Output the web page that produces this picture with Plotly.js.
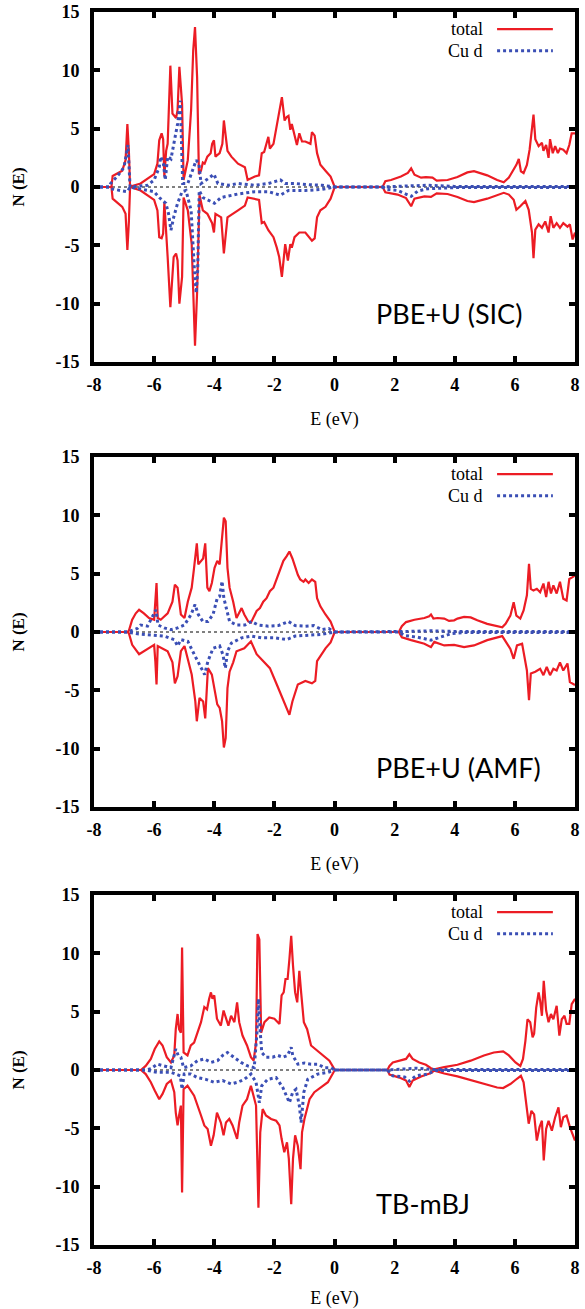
<!DOCTYPE html>
<html>
<head>
<meta charset="utf-8">
<script src="https://cdn.plot.ly/plotly-3.0.1.min.js"></script>
<style>html,body{margin:0;padding:0;background:#fff;}#plot{width:585px;height:1309px;}</style>
</head>
<body>
<div id="plot"></div>
<script>
// ---- data: [E (eV), N(E)] pairs ----
const panelLabels = ["PBE+U (SIC)", "PBE+U (AMF)", "TB-mBJ"];
const seriesNames = ["total", "Cu d"];
const xTicks = [-8, -6, -4, -2, 0, 2, 4, 6, 8];
const yTicks = [-15, -10, -5, 0, 5, 10, 15];

const sicTotalUp = [[-8,0],[-7.42,0],[-7.38,0.95],[-7.2,1.2],[-7.06,1.4],[-6.95,2.3],[-6.89,5.4],[-6.84,3.1],[-6.8,0],[-6.78,0.05],[-6.45,0.3],[-6.22,0.7],[-6.0,1.1],[-5.89,2.0],[-5.83,4.0],[-5.75,4.6],[-5.7,4.1],[-5.66,0.9],[-5.6,3.1],[-5.55,3.7],[-5.5,7.7],[-5.46,10.4],[-5.39,6.3],[-5.27,5.9],[-5.22,6.6],[-5.16,10.3],[-5.07,7.1],[-5.02,0.6],[-4.88,2.3],[-4.77,6.6],[-4.7,11.7],[-4.64,13.7],[-4.57,9.4],[-4.51,1.1],[-4.44,1.4],[-4.38,2.1],[-4.32,2.0],[-4.23,2.6],[-4.12,2.9],[-4.07,3.7],[-4.01,4.0],[-3.96,2.6],[-3.82,2.9],[-3.73,3.7],[-3.68,5.7],[-3.56,3.1],[-3.43,2.6],[-3.21,2.0],[-2.98,1.7],[-2.89,0.6],[-2.65,0.9],[-2.51,1.0],[-2.42,2.9],[-2.34,3.0],[-2.2,4.3],[-2.15,3.3],[-2.03,3.7],[-1.92,5.4],[-1.84,6.6],[-1.75,7.7],[-1.66,5.7],[-1.59,6.0],[-1.53,6.1],[-1.47,4.9],[-1.42,5.4],[-1.33,4.3],[-1.25,3.6],[-1.17,4.6],[-1.08,3.9],[-0.97,3.9],[-0.8,3.7],[-0.75,4.7],[-0.66,4.4],[-0.58,2.9],[-0.47,1.9],[-0.3,1.4],[-0.13,0.9],[0,0.05],[0.05,0],[1.6,0],[1.69,0.5],[1.88,0.6],[2.21,0.9],[2.44,1.2],[2.55,1.6],[2.66,1.05],[2.88,0.8],[3.04,0.85],[3.26,0.8],[3.4,0.55],[3.76,0.6],[4.09,0.85],[4.42,1.25],[4.64,1.35],[4.86,1.2],[5.08,1.0],[5.41,0.6],[5.63,0.4],[5.8,0.8],[5.96,1.5],[6.05,1.9],[6.13,2.4],[6.2,1.35],[6.29,1.2],[6.4,1.9],[6.49,3.2],[6.57,4.9],[6.62,6.2],[6.68,4.1],[6.79,3.5],[6.9,3.8],[6.95,3.1],[7.04,3.6],[7.12,2.5],[7.17,4.1],[7.26,2.9],[7.34,3.5],[7.43,2.9],[7.5,3.3],[7.61,3.2],[7.72,2.9],[7.81,3.6],[7.89,4.6],[8,4.6]];
const sicTotalDn = [[-8,0],[-7.42,0],[-7.38,-1.0],[-7.06,-1.7],[-6.95,-2.3],[-6.89,-5.4],[-6.84,-3.0],[-6.8,0],[-6.45,-0.3],[-6.22,-0.7],[-6.0,-1.1],[-5.89,-2.0],[-5.83,-4.3],[-5.75,-4.4],[-5.7,-4.0],[-5.66,-1.3],[-5.6,-3.5],[-5.55,-6.0],[-5.46,-10.3],[-5.35,-6.0],[-5.27,-5.7],[-5.22,-6.3],[-5.16,-10.0],[-5.07,-7.7],[-5.02,-0.9],[-4.88,-2.0],[-4.75,-4.9],[-4.7,-9.0],[-4.64,-13.6],[-4.57,-9.0],[-4.49,-0.7],[-4.38,-2.0],[-4.23,-2.3],[-4.07,-3.1],[-4.01,-3.9],[-3.96,-2.3],[-3.77,-2.6],[-3.68,-5.7],[-3.56,-2.6],[-3.21,-2.0],[-2.98,-1.6],[-2.89,-0.9],[-2.51,-1.1],[-2.42,-3.1],[-2.34,-3.0],[-2.2,-3.7],[-2.03,-4.3],[-1.92,-5.2],[-1.84,-6.0],[-1.75,-7.7],[-1.64,-4.9],[-1.55,-6.3],[-1.47,-4.9],[-1.42,-5.2],[-1.33,-4.3],[-1.17,-3.9],[-0.97,-3.9],[-0.75,-4.6],[-0.66,-4.4],[-0.58,-2.6],[-0.47,-2.0],[-0.3,-1.7],[-0.13,-1.0],[0,-0.05],[0.05,0],[1.6,0],[1.69,-0.45],[2.1,-0.65],[2.38,-0.95],[2.55,-1.65],[2.66,-1.0],[2.99,-0.8],[3.21,-0.85],[3.4,-0.55],[3.76,-0.6],[4.09,-0.85],[4.42,-1.2],[4.64,-1.3],[5.08,-1.0],[5.63,-0.5],[5.8,-0.65],[5.96,-1.1],[6.05,-1.95],[6.18,-1.65],[6.35,-1.2],[6.46,-1.95],[6.57,-3.9],[6.62,-6.1],[6.68,-3.65],[6.79,-3.2],[6.9,-3.5],[7.01,-2.95],[7.12,-3.9],[7.19,-2.5],[7.28,-3.5],[7.39,-3.1],[7.5,-3.5],[7.61,-3.1],[7.75,-3.4],[7.83,-3.2],[7.92,-4.5],[8,-3.9]];
const sicCudUp = [[-8,0],[-7.5,0],[-7.45,0.3],[-7.23,0.9],[-7.0,1.7],[-6.87,3.6],[-6.8,0],[-6.5,0.05],[-6.22,0.15],[-6.0,0.6],[-5.83,1.7],[-5.78,2.6],[-5.69,2.0],[-5.63,0.6],[-5.55,2.6],[-5.44,2.4],[-5.31,4.0],[-5.22,5.4],[-5.13,7.4],[-5.05,0.3],[-4.88,0.3],[-4.72,1.4],[-4.6,2.3],[-4.51,2.0],[-4.44,0.3],[-4.21,0.7],[-4.01,1.1],[-3.88,0.3],[-3.54,0.15],[-3.21,0.3],[-2.65,0.15],[-2.2,0.3],[-1.8,0.6],[-1.64,0.3],[-1.3,0.3],[-0.85,0.2],[-0.41,0.15],[0,0],[1.6,0],[2.55,0.1],[3.1,0.15],[4,0.05],[5,0.05],[6,0.05],[7,0.05],[8,0.05]];
const sicCudDn = [[-8,0],[-7.5,0],[-7.45,-0.15],[-6.89,-0.4],[-6.8,0],[-6.22,-0.3],[-6.0,-0.4],[-5.83,-0.9],[-5.61,-1.4],[-5.52,-2.3],[-5.44,-3.7],[-5.35,-2.6],[-5.22,-1.4],[-5.07,-0.4],[-4.94,-0.3],[-4.77,-2.0],[-4.72,-4.9],[-4.66,-7.1],[-4.6,-9.1],[-4.55,-7.1],[-4.5,-0.3],[-4.38,-0.9],[-3.99,-1.4],[-3.77,-0.9],[-3.21,-0.6],[-2.65,-0.4],[-2.2,-0.4],[-1.8,-0.7],[-1.53,-0.3],[-0.97,-0.3],[-0.41,-0.2],[0,0],[1.6,0],[1.72,-0.2],[2.1,-0.3],[2.55,-0.8],[2.77,-0.35],[3.1,-0.15],[4,-0.05],[6,-0.05],[8,-0.05]];

const amfTotalUp = [[-8,0],[-6.9,0],[-6.84,0.1],[-6.73,1.05],[-6.61,1.6],[-6.5,1.9],[-6.34,1.6],[-6.17,1.2],[-6.0,1.05],[-5.96,2.6],[-5.92,4.2],[-5.88,1.2],[-5.78,1.05],[-5.55,1.6],[-5.39,2.6],[-5.31,4.05],[-5.22,3.8],[-5.11,1.5],[-4.99,1.2],[-4.88,2.6],[-4.75,3.8],[-4.68,5.3],[-4.63,6.3],[-4.58,7.6],[-4.53,5.8],[-4.44,6.1],[-4.37,6.3],[-4.3,7.6],[-4.23,3.8],[-4.16,3.5],[-4.08,4.2],[-3.99,5.5],[-3.9,6.1],[-3.82,5.8],[-3.74,8.1],[-3.68,9.8],[-3.62,9.5],[-3.56,5.5],[-3.49,3.8],[-3.37,2.6],[-3.26,1.2],[-3.15,1.8],[-3.09,2.05],[-3.0,1.5],[-2.87,0.9],[-2.78,0.8],[-2.7,1.2],[-2.59,1.8],[-2.48,2.05],[-2.37,2.6],[-2.26,2.9],[-2.15,3.5],[-2.03,3.8],[-1.92,4.6],[-1.81,5.3],[-1.7,6.1],[-1.59,6.5],[-1.5,6.9],[-1.4,6.3],[-1.31,5.6],[-1.22,4.9],[-1.14,4.5],[-1.03,4.3],[-0.97,4.5],[-0.86,4.2],[-0.75,4.5],[-0.64,4.3],[-0.58,2.9],[-0.47,2.2],[-0.3,1.5],[-0.13,0.9],[0,0.05],[0.05,0],[2.14,0],[2.24,0.5],[2.38,0.85],[2.66,1.05],[2.99,1.2],[3.15,1.35],[3.21,1.5],[3.29,1.15],[3.43,1.2],[3.65,1.15],[3.81,0.95],[3.98,1.0],[4.09,1.15],[4.31,1.3],[4.53,1.25],[4.75,1.0],[5.08,0.7],[5.41,0.5],[5.58,0.4],[5.69,0.7],[5.85,1.4],[5.96,2.55],[6.05,1.4],[6.18,1.15],[6.29,1.85],[6.4,3.15],[6.47,5.85],[6.53,3.7],[6.62,3.55],[6.73,3.7],[6.84,3.4],[6.95,4.15],[7.04,3.0],[7.12,4.3],[7.2,3.3],[7.28,4.0],[7.39,3.3],[7.5,4.3],[7.61,2.85],[7.72,2.7],[7.81,4.55],[7.92,4.7],[8,4.85]];
const amfTotalDn = [[-8,0],[-6.9,0],[-6.84,-0.1],[-6.73,-1.1],[-6.5,-1.9],[-6.17,-1.4],[-6.0,-1.1],[-5.96,-2.5],[-5.92,-4.5],[-5.88,-1.2],[-5.55,-1.65],[-5.39,-2.6],[-5.31,-4.4],[-5.22,-3.8],[-5.11,-1.65],[-4.99,-1.2],[-4.88,-2.4],[-4.75,-3.65],[-4.63,-5.95],[-4.58,-7.65],[-4.49,-5.65],[-4.37,-5.95],[-4.3,-7.4],[-4.21,-3.1],[-4.08,-3.65],[-3.99,-5.0],[-3.9,-6.2],[-3.82,-6.5],[-3.74,-7.65],[-3.68,-9.9],[-3.62,-9.1],[-3.56,-4.8],[-3.49,-3.4],[-3.37,-2.6],[-3.26,-1.65],[-3.0,-1.4],[-2.78,-0.8],[-2.59,-1.9],[-2.37,-2.5],[-2.15,-3.1],[-1.92,-4.5],[-1.7,-5.95],[-1.5,-7.1],[-1.4,-5.95],[-1.22,-4.5],[-0.97,-4.2],[-0.75,-4.4],[-0.64,-4.2],[-0.58,-2.5],[-0.3,-1.4],[-0.13,-0.9],[0,-0.05],[0.05,0],[2.14,0],[2.24,-0.45],[2.55,-0.7],[2.99,-1.0],[3.21,-1.3],[3.32,-0.85],[3.65,-1.15],[3.98,-1.1],[4.31,-1.3],[4.64,-1.15],[5.08,-0.7],[5.58,-0.35],[5.85,-1.45],[5.96,-2.3],[6.07,-1.15],[6.24,-1.0],[6.4,-3.3],[6.47,-5.85],[6.53,-3.55],[6.68,-3.4],[6.84,-3.15],[6.95,-3.7],[7.06,-3.0],[7.17,-3.7],[7.28,-3.15],[7.39,-3.3],[7.5,-2.6],[7.61,-3.3],[7.75,-2.7],[7.83,-4.3],[8,-4.55]];
const amfCudUp = [[-8,0],[-6.9,0],[-6.56,0.3],[-6.45,0.6],[-6.22,0.5],[-5.94,1.9],[-5.87,0.6],[-5.66,0.35],[-5.44,0.2],[-5.22,0.35],[-4.99,0.6],[-4.77,1.5],[-4.64,2.35],[-4.53,1.5],[-4.38,0.9],[-4.21,0.9],[-4.04,1.5],[-3.9,2.9],[-3.82,3.05],[-3.74,4.35],[-3.68,2.9],[-3.6,2.05],[-3.49,0.9],[-3.26,0.6],[-2.98,0.6],[-2.76,0.9],[-2.54,0.6],[-2.2,0.5],[-1.87,0.55],[-1.53,0.9],[-1.31,0.55],[-0.97,0.5],[-0.69,0.55],[-0.41,0.2],[-0.19,0.3],[0,0],[2.14,0],[2.5,0.05],[3.2,0.1],[4,0.05],[8,0.05]];
const amfCudDn = [[-8,0],[-6.9,0],[-6.56,-0.15],[-5.94,-0.25],[-5.66,-0.35],[-5.33,-0.65],[-5.22,-1.2],[-5.11,-0.65],[-4.88,-0.8],[-4.66,-1.95],[-4.49,-2.8],[-4.32,-3.65],[-4.21,-2.5],[-4.04,-1.4],[-3.82,-1.2],[-3.71,-1.95],[-3.63,-3.1],[-3.56,-1.65],[-3.43,-0.95],[-3.09,-0.5],[-2.76,-0.35],[-2.42,-0.5],[-1.98,-0.5],[-1.59,-0.65],[-1.31,-0.35],[-0.86,-0.3],[-0.41,-0.2],[0,0],[2.14,0],[2.33,-0.3],[2.77,-0.45],[3.21,-0.7],[3.54,-0.45],[3.87,-0.15],[4.3,-0.05],[8,-0.05]];

const mbjTotalUp = [[-8,0],[-6.44,0],[-6.28,0.35],[-6.11,0.95],[-5.98,1.8],[-5.83,2.45],[-5.72,2.1],[-5.58,1.1],[-5.44,0.65],[-5.33,1.25],[-5.28,3.5],[-5.22,4.8],[-5.17,3.5],[-5.11,3.2],[-5.07,10.5],[-5.02,1.5],[-4.89,1.25],[-4.78,2.1],[-4.67,2.35],[-4.56,3.2],[-4.44,4.1],[-4.33,5.4],[-4.24,5.2],[-4.17,6.1],[-4.11,6.65],[-4.06,6.1],[-4.0,6.4],[-3.91,4.4],[-3.78,3.8],[-3.69,5.1],[-3.61,4.5],[-3.53,3.8],[-3.44,4.65],[-3.33,4.1],[-3.24,5.8],[-3.17,4.1],[-3.06,2.95],[-2.91,2.1],[-2.78,1.1],[-2.69,0.8],[-2.61,2.35],[-2.56,11.65],[-2.5,11.2],[-2.44,3.2],[-2.33,4.1],[-2.17,4.5],[-2.0,4.4],[-1.83,3.95],[-1.76,6.4],[-1.69,6.65],[-1.63,7.8],[-1.56,7.8],[-1.5,9.5],[-1.44,11.5],[-1.38,8.95],[-1.31,6.65],[-1.24,5.8],[-1.17,8.5],[-1.11,6.65],[-1.02,4.1],[-0.91,3.5],[-0.78,2.1],[-0.64,1.8],[-0.5,1.5],[-0.33,1.1],[-0.17,0.8],[0,0.05],[0.05,0],[1.76,0],[1.83,0.35],[1.94,0.65],[2.16,0.8],[2.38,0.95],[2.49,1.35],[2.6,0.95],[2.82,0.65],[3.04,0.45],[3.21,0.15],[3.32,0.05],[3.65,0.25],[4.09,0.45],[4.53,0.8],[4.97,1.25],[5.3,1.5],[5.61,1.6],[5.8,1.25],[6.02,0.65],[6.18,0.35],[6.27,0.95],[6.35,2.5],[6.42,4.35],[6.51,4.1],[6.59,2.8],[6.64,3.1],[6.71,5.35],[6.79,6.65],[6.84,5.95],[6.9,4.65],[6.96,7.65],[7.04,5.1],[7.12,4.1],[7.2,4.8],[7.28,4.35],[7.39,5.5],[7.48,2.95],[7.56,4.35],[7.65,4.65],[7.72,3.95],[7.81,3.95],[7.89,5.65],[8,6.1]];
const mbjTotalDn = [[-8,0],[-6.44,0],[-6.28,-0.35],[-6.11,-1.05],[-5.98,-1.75],[-5.83,-2.5],[-5.72,-2.05],[-5.58,-1.2],[-5.44,-0.9],[-5.33,-1.9],[-5.28,-3.65],[-5.22,-4.75],[-5.17,-3.9],[-5.11,-3.05],[-5.07,-10.5],[-5.02,-1.65],[-4.89,-1.35],[-4.67,-2.2],[-4.44,-3.9],[-4.33,-4.75],[-4.22,-5.05],[-4.11,-6.5],[-4.02,-5.6],[-3.91,-3.65],[-3.78,-4.5],[-3.69,-5.6],[-3.61,-4.5],[-3.5,-4.2],[-3.39,-4.75],[-3.24,-5.9],[-3.17,-4.5],[-3.06,-3.05],[-2.91,-2.5],[-2.78,-1.35],[-2.61,-3.05],[-2.53,-11.8],[-2.47,-5.35],[-2.39,-3.35],[-2.28,-3.9],[-2.11,-4.2],[-1.94,-4.35],[-1.83,-4.75],[-1.76,-5.9],[-1.67,-7.05],[-1.58,-6.2],[-1.52,-7.6],[-1.44,-11.5],[-1.38,-7.6],[-1.31,-5.6],[-1.22,-6.5],[-1.13,-8.5],[-1.08,-5.35],[-1.0,-4.2],[-0.83,-2.5],[-0.67,-1.9],[-0.44,-1.5],[-0.22,-1.05],[0,-0.05],[0.05,0],[1.76,0],[1.83,-0.4],[2.16,-0.65],[2.38,-0.9],[2.49,-1.45],[2.6,-0.9],[2.88,-0.55],[3.21,-0.25],[3.32,-0.05],[3.65,-0.3],[4.09,-0.55],[4.53,-0.85],[4.97,-1.2],[5.41,-1.5],[5.61,-1.55],[5.85,-1.2],[6.07,-0.75],[6.2,-0.5],[6.29,-1.05],[6.38,-2.9],[6.46,-4.6],[6.55,-3.5],[6.64,-3.8],[6.73,-6.05],[6.82,-4.9],[6.9,-4.35],[6.96,-7.75],[7.04,-5.05],[7.12,-4.35],[7.23,-5.2],[7.34,-4.05],[7.45,-3.2],[7.53,-4.9],[7.61,-4.05],[7.72,-3.9],[7.83,-4.9],[8,-6.05]];
const mbjCudUp = [[-8,0],[-6.3,0],[-6.11,0.1],[-5.89,0.5],[-5.67,0.35],[-5.44,0.2],[-5.28,1.8],[-5.2,1.25],[-5.11,1.1],[-5.02,0.2],[-4.78,0.35],[-4.56,0.8],[-4.33,0.95],[-4.11,0.65],[-3.89,0.8],[-3.72,1.25],[-3.56,1.5],[-3.33,1.1],[-3.11,0.65],[-2.89,0.35],[-2.67,0.2],[-2.58,3.2],[-2.53,6.1],[-2.47,3.2],[-2.42,1.5],[-2.28,1.1],[-2.06,1.1],[-1.89,1.25],[-1.72,1.1],[-1.56,1.25],[-1.44,1.95],[-1.39,1.25],[-1.22,0.5],[-1.0,0.6],[-0.78,0.5],[-0.56,0.5],[-0.33,0.2],[-0.11,0.2],[0,0],[1.76,0],[2.71,0.15],[3.3,0.05],[8,0.05]];
const mbjCudDn = [[-8,0],[-6.3,0],[-5.89,-0.2],[-5.44,-0.2],[-5.28,-0.35],[-5.13,-0.5],[-5.07,-1.65],[-5.0,-0.35],[-4.78,-0.35],[-4.56,-0.65],[-4.28,-0.8],[-4.0,-1.05],[-3.72,-0.9],[-3.44,-1.2],[-3.22,-1.05],[-3.0,-0.8],[-2.78,-0.35],[-2.61,-1.05],[-2.5,-2.8],[-2.42,-1.35],[-2.22,-0.8],[-1.94,-0.65],[-1.72,-1.5],[-1.61,-2.2],[-1.5,-2.8],[-1.39,-1.9],[-1.28,-1.65],[-1.17,-3.05],[-1.11,-4.5],[-1.02,-1.9],[-0.89,-0.8],[-0.56,-0.35],[-0.22,-0.2],[0,0],[1.76,0],[1.94,-0.5],[2.33,-0.6],[2.49,-0.95],[2.71,-0.5],[3.1,-0.35],[3.35,-0.05],[8,-0.05]];

// ---- styling ----
const RED = "#ec1c24";
const BLUE = "#3b4fb5";
const SERIF = "Liberation Serif";
const SANS = "Lato";

const panels = [
  {total: [sicTotalUp, sicTotalDn], cud: [sicCudUp, sicCudDn], label: panelLabels[0]},
  {total: [amfTotalUp, amfTotalDn], cud: [amfCudUp, amfCudDn], label: panelLabels[1]},
  {total: [mbjTotalUp, mbjTotalDn], cud: [mbjCudUp, mbjCudDn], label: panelLabels[2]}
];
const H = 1309, W = 585;
const xDom = [94 / W, 575 / W];
const yPix = [[12, 362], [457, 807], [895, 1245]];
const labelY = [0.14, 0.114, 0.12];

const traces = [];
const layout = {
  width: W, height: H,
  margin: {l: 0, r: 0, t: 0, b: 0},
  paper_bgcolor: "#fff", plot_bgcolor: "#fff",
  font: {family: SERIF, color: "#000"},
  showlegend: false,
  shapes: [], annotations: []
};

panels.forEach((p, i) => {
  const n = i === 0 ? "" : String(i + 1);
  const xa = "x" + n, ya = "y" + n;
  const mk = (pairs, color, dash, width, name) => ({
    type: "scatter", mode: "lines", xaxis: xa, yaxis: ya, name: name,
    x: pairs.map(d => d[0]), y: pairs.map(d => d[1]),
    line: {color: color, width: width, dash: dash},
    hoverinfo: "skip"
  });
  p.total.forEach(s => traces.push(mk(s, RED, "solid", 2.2, seriesNames[0])));
  p.cud.forEach(s => traces.push(mk(s, BLUE, "3px,3px", 3, seriesNames[1])));

  const axCommon = {
    showline: true, linewidth: 4, linecolor: "#000", mirror: "ticks",
    ticks: "inside", ticklen: 6, tickwidth: 4, tickcolor: "#000",
    showgrid: false, zeroline: false, fixedrange: true,
    tickfont: {family: SERIF, size: 18, color: "#000", weight: "bold"}
  };
  layout["xaxis" + n] = Object.assign({}, axCommon, {
    domain: xDom, anchor: ya, range: [-8, 8], tickvals: xTicks,
    ticktext: xTicks.map(String), ticklabelstandoff: 3,
    title: {text: "E (eV)", font: {family: SERIF, size: 18, color: "#000"}, standoff: 20}
  });
  layout["yaxis" + n] = Object.assign({}, axCommon, {
    domain: [1 - yPix[i][1] / H, 1 - yPix[i][0] / H], anchor: xa, range: [-15, 15],
    tickvals: yTicks, ticktext: yTicks.map(String), ticklabelstandoff: 7,
    title: {text: "<b>N (E)</b>", font: {family: SERIF, size: 17, color: "#000"}, standoff: 27}
  });

  // zero dotted line
  layout.shapes.push({type: "line", xref: xa, yref: ya, x0: -8, x1: 8, y0: 0, y1: 0,
    line: {color: "#000", width: 1, dash: "dot"}, layer: "below"});
  // legend samples
  layout.shapes.push({type: "line", xref: xa + " domain", yref: ya + " domain",
    x0: 0.838, x1: 0.954, y0: 0.951, y1: 0.951, line: {color: RED, width: 2.4}});
  layout.shapes.push({type: "line", xref: xa + " domain", yref: ya + " domain",
    x0: 0.838, x1: 0.954, y0: 0.889, y1: 0.889, line: {color: BLUE, width: 3, dash: "3px,3px"}});
  layout.annotations.push({xref: xa + " domain", yref: ya + " domain", x: 0.812, y: 0.951,
    xanchor: "right", yanchor: "middle", showarrow: false, text: seriesNames[0],
    font: {family: SERIF, size: 18, color: "#000"}});
  layout.annotations.push({xref: xa + " domain", yref: ya + " domain", x: 0.812, y: 0.889,
    xanchor: "right", yanchor: "middle", showarrow: false, text: seriesNames[1],
    font: {family: SERIF, size: 18, color: "#000"}});
  // panel label
  layout.annotations.push({xref: xa + " domain", yref: ya + " domain", x: 0.582, y: labelY[i],
    xanchor: "left", yanchor: "middle", showarrow: false, text: p.label,
    font: {family: SANS, size: 27, color: "#000"}});
});

Plotly.newPlot("plot", traces, layout, {displayModeBar: false, staticPlot: true});
</script>
</body>
</html>
